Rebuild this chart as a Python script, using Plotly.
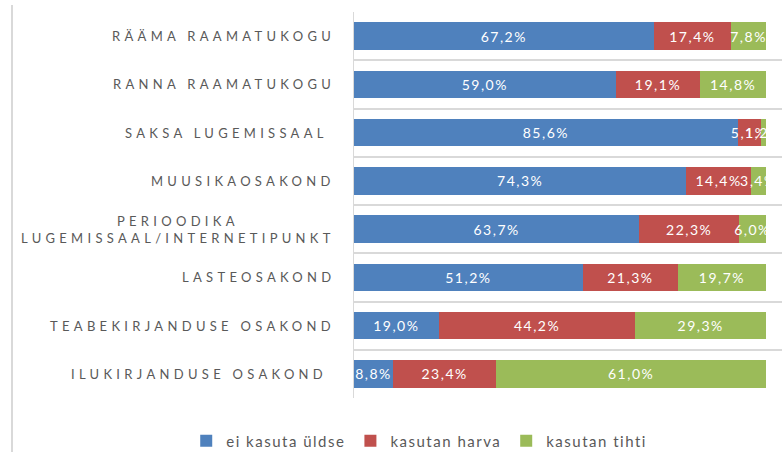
import plotly.graph_objects as go

categories = [
    "RÄÄMA RAAMATUKOGU",
    "RANNA RAAMATUKOGU",
    "SAKSA LUGEMISSAAL\u00a0",
    "MUUSIKAOSAKOND",
    "PERIOODIKA<br>LUGEMISSAAL/INTERNETIPUNKT",
    "LASTEOSAKOND",
    "TEABEKIRJANDUSE OSAKOND",
    "ILUKIRJANDUSE OSAKOND\u00a0",
]
series_names = ["ei kasuta üldse", "kasutan harva", "kasutan tihti"]
ei_kasuta = [67.2, 59.0, 85.6, 74.3, 63.7, 51.2, 19.0, 8.8]
harva = [17.4, 19.1, 5.1, 14.4, 22.3, 21.3, 44.2, 23.4]
tihti = [7.8, 14.8, 1.2, 3.4, 6.0, 19.7, 29.3, 61.0]
colors = ["#4f81bd", "#c0504d", "#9bbb59"]

FONT = "Lato"
GRAY = "#595959"
positions = list(range(len(categories)))


def fmt(v):
    return '<span style="letter-spacing:1.5px">' + f"{v:.1f}".replace(".", ",") + "%</span>"


fig = go.Figure()
for name, vals, col in zip(series_names, [ei_kasuta, harva, tihti], colors):
    fig.add_trace(go.Bar(
        y=positions, x=vals, orientation="h", name=f'<span style="letter-spacing:1.5px">{name}</span>',
        marker=dict(color=col, line=dict(width=0)),
        text=[fmt(v) for v in vals], textposition="inside", textangle=0,
        insidetextanchor="middle", constraintext="none",
        textfont=dict(family=FONT, size=14, color="white"),
        hoverinfo="skip",
    ))

for pos, lab in zip(positions, categories):
    fig.add_annotation(
        x=0, xref="paper", y=pos, yref="y", xanchor="right", xshift=-17,
        text=f'<span style="letter-spacing:4.3px">{lab}</span>', showarrow=False,
        align="center", font=dict(family=FONT, size=13, color=GRAY),
    )

fig.add_shape(type="line", xref="paper", yref="paper", x0=-342/428, x1=-342/428,
              y0=-54/386, y1=1 + 7/386, line=dict(color="#d9d9d9", width=2))

fig.update_layout(
    width=782, height=452,
    margin=dict(l=354, r=0, t=12, b=54, autoexpand=False),
    barmode="stack", barnorm="percent", bargap=0.43,
    paper_bgcolor="white", plot_bgcolor="white",
    font=dict(family=FONT, color=GRAY),
    uniformtext=dict(minsize=14, mode="show"),
    xaxis=dict(range=[0, 103.9], showgrid=False, zeroline=False, showticklabels=False, fixedrange=True),
    yaxis=dict(range=[7.5, -0.5], tickvals=[i - 0.5 for i in range(len(categories) + 1)],
               showticklabels=False, showgrid=True, gridcolor="#d9d9d9", gridwidth=2,
               zeroline=False, showline=True, linecolor="#d9d9d9", linewidth=1, ticks=""),
    legend=dict(orientation="h", xref="paper", yref="paper", x=-0.392, xanchor="left",
                y=-43/386, yanchor="middle", font=dict(family=FONT, size=15, color=GRAY),
                traceorder="normal", itemwidth=30),
    showlegend=True,
)

fig.write_html("out.html")
